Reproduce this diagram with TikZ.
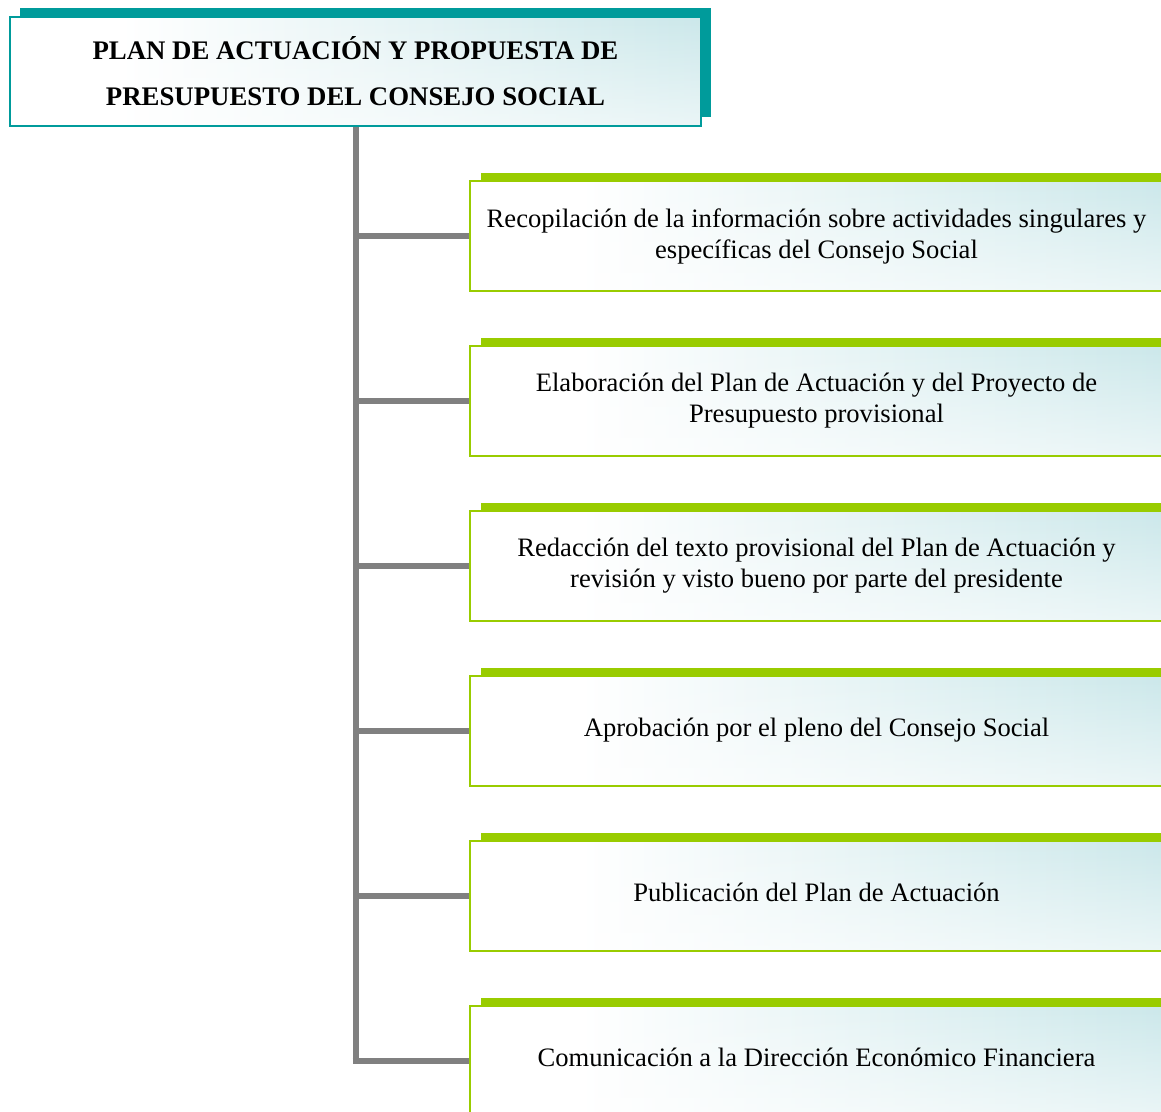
\documentclass[tikz,border=0pt]{standalone}
\usepackage{fontspec}
\setmainfont{Liberation Serif}
\usetikzlibrary{shadows,fadings}
\definecolor{tealc}{HTML}{009B9B}
\definecolor{greenc}{HTML}{99CC00}
\definecolor{paleteal}{HTML}{ADDADE}
\definecolor{linegray}{HTML}{808080}
\pgfdeclarehorizontalshading{boxshade}{100bp}{color(0bp)=(white); color(33bp)=(white); color(100bp)=(paleteal)}
\tikzset{
  shadedbox/.style={shading=boxshade, line width=2pt,
    path picture={\fill[white, path fading=north, fill opacity=0.6]
      (path picture bounding box.south west) rectangle (path picture bounding box.north east);}},
  titlebox/.style={shadedbox, draw=tealc, minimum width=691pt, minimum height=109pt,
    inner sep=0pt, align=center, font=\fontsize{26.8}{46}\selectfont\bfseries,
    drop shadow={shadow xshift=10pt, shadow yshift=9pt, fill=tealc, opacity=1}},
  stepbox/.style={shadedbox, draw=greenc, minimum width=693pt, minimum height=110pt,
    inner sep=0pt, align=center, font=\fontsize{26.6}{31}\selectfont,
    drop shadow={shadow xshift=11pt, shadow yshift=8pt, fill=greenc, opacity=1}},
  link/.style={draw=linegray, line width=6pt}
}
\begin{document}
\begin{tikzpicture}[x=1pt,y=-1pt]
\useasboundingbox (0,0) rectangle (1161,1111);
\begin{scope}
\clip (0,0) rectangle (1161,1111);
\node[titlebox] (title) at (355.5,71.5) {PLAN DE ACTUACIÓN Y PROPUESTA DE\\PRESUPUESTO DEL CONSEJO SOCIAL};
\node[stepbox] (s1) at (816.5,236) {Recopilación de la información sobre actividades singulares y\\específicas del Consejo Social};
\node[stepbox] (s2) at (816.5,401) {Elaboración del Plan de Actuación y del Proyecto de\\Presupuesto provisional};
\node[stepbox] (s3) at (816.5,566) {Redacción del texto provisional del Plan de Actuación y\\revisión y visto bueno por parte del presidente};
\node[stepbox] (s4) at (816.5,731) {\raisebox{7pt}{Aprobación por el pleno del Consejo Social}};
\node[stepbox] (s5) at (816.5,896) {\raisebox{7pt}{Publicación del Plan de Actuación}};
\node[stepbox] (s6) at (816.5,1061) {\raisebox{7pt}{Comunicación a la Dirección Económico Financiera}};
\coordinate (bottom) at (title.south |- s6.west);
\draw[link] (title.south) -- (bottom);
\foreach \i in {1,...,5} {
  \draw[link] (title.south |- s\i.west) -- (s\i.west);
}
\draw[link] ([xshift=-3pt]bottom) -- (s6.west);
\end{scope}
\end{tikzpicture}
\end{document}
